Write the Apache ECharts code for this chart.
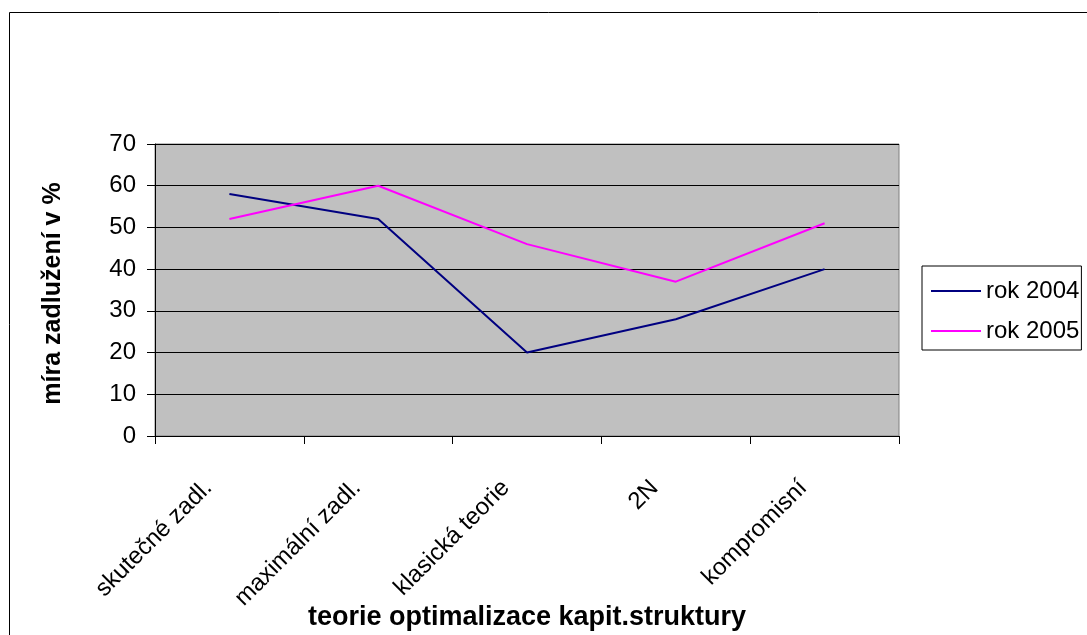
<!DOCTYPE html>
<html>
<head>
<meta charset="utf-8">
<style>
  html, body { margin: 0; padding: 0; background: #fff; }
  #myChart { width: 1087px; height: 635px; }
</style>
<script src="https://cdn.jsdelivr.net/npm/echarts@6/dist/echarts.min.js"></script>
</head>
<body>
<div id="myChart"></div>
<script>
// data
var categories = ['skutečné zadl.', 'maximální zadl.', 'klasická teorie', '2N', 'kompromisní']
var rok2004 = [58, 52, 20, 28, 40]
var rok2005 = [52, 60, 46, 37, 51]
var seriesNames = ['rok 2004', 'rok 2005']

var font = 'Arial, "Liberation Sans", sans-serif'

var chart = echarts.init(document.getElementById('myChart'), null, { renderer: 'canvas' })

chart.setOption({
  animation: false,
  backgroundColor: '#fff',
  graphic: [{
    type: 'rect',
    silent: true,
    z: -10,
    shape: { x: 9.5, y: 12.5, width: 1200, height: 800 },
    style: { fill: 'none', stroke: '#000', lineWidth: 1 }
  }],
  grid: {
    left: 155,
    top: 144,
    right: 188,
    bottom: 199,
    containLabel: false,
    outerBoundsMode: 'none',
    show: true,
    backgroundColor: '#c0c0c0',
    borderColor: '#808080',
    borderWidth: 1
  },
  legend: {
    data: seriesNames,
    orient: 'vertical',
    left: 922,
    top: 266,
    padding: [13, 2, 7, 9],
    icon: 'rect',
    itemWidth: 50,
    itemHeight: 2,
    itemGap: 16,
    borderColor: '#000',
    borderWidth: 1,
    textStyle: {
      fontFamily: font,
      fontSize: 24,
      color: '#000'
    }
  },
  xAxis: {
    type: 'category',
    data: categories,
    boundaryGap: true,
    name: 'teorie optimalizace kapit.struktury',
    nameLocation: 'middle',
    nameGap: 168,
    nameMoveOverlap: false,
    nameTextStyle: {
      fontFamily: font,
      fontSize: 27,
      fontWeight: 'bold',
      color: '#000'
    },
    axisLine: { lineStyle: { color: '#000', width: 1 } },
    axisTick: { show: true, length: 8, inside: false, lineStyle: { color: '#000' } },
    axisLabel: {
      interval: 0,
      rotate: 45,
      margin: 27,
      padding: [0, 30, 0, 0],
      fontFamily: font,
      fontSize: 24,
      color: '#000'
    },
    splitLine: { show: false }
  },
  yAxis: {
    type: 'value',
    min: 0,
    max: 70,
    interval: 10,
    name: 'míra zadlužení v %',
    nameLocation: 'middle',
    nameGap: 89,
    nameMoveOverlap: false,
    nameTextStyle: {
      fontFamily: font,
      fontSize: 25,
      fontWeight: 'bold',
      color: '#000',
      padding: [0, 7, 0, 0]
    },
    axisLine: { show: true, lineStyle: { color: '#000', width: 1 } },
    axisTick: { show: true, length: 8, lineStyle: { color: '#000' } },
    axisLabel: {
      margin: 19,
      fontFamily: font,
      fontSize: 24,
      color: '#000'
    },
    splitLine: { show: true, lineStyle: { color: '#000', width: 1 } }
  },
  series: [{
    name: seriesNames[0],
    type: 'line',
    data: rok2004,
    symbol: 'none',
    lineStyle: { color: '#000080', width: 2 },
    itemStyle: { color: '#000080' }
  },
  {
    name: seriesNames[1],
    type: 'line',
    data: rok2005,
    symbol: 'none',
    lineStyle: { color: '#ff00ff', width: 2 },
    itemStyle: { color: '#ff00ff' }
  }]
})
</script>
</body>
</html>
